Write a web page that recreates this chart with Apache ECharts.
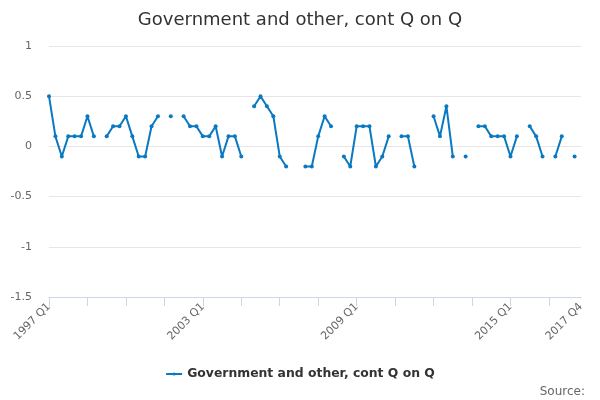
<!DOCTYPE html>
<html lang="en">
<head>
    <meta charset="UTF-8"/>
    <title>Government and other, cont Q on Q</title>
    <script src="https://cdn.jsdelivr.net/npm/echarts@6/dist/echarts.min.js"></script>
</head>
<body style="margin:0">

<div id="main" style="width:600px; height:400px;"></div>

<script type="text/javascript">
    // quarters 1997 Q1 .. 2017 Q4
    var years = [];
    for (var y = 1997; y <= 2017; y++) years.push(y);
    var quarters = ['Q1', 'Q2', 'Q3', 'Q4'];

    var seriesName = 'Government and other, cont Q on Q';

    // values, null where the line breaks
    var values = [
        0.5, 0.1, -0.1, 0.1, 0.1, 0.1, 0.3, 0.1, null, 0.1,
        0.2, 0.2, 0.3, 0.1, -0.1, -0.1, 0.2, 0.3, null, 0.3,
        null, 0.3, 0.2, 0.2, 0.1, 0.1, 0.2, -0.1, 0.1, 0.1,
        -0.1, null, 0.4, 0.5, 0.4, 0.3, -0.1, -0.2, null, null,
        -0.2, -0.2, 0.1, 0.3, 0.2, null, -0.1, -0.2, 0.2, 0.2,
        0.2, -0.2, -0.1, 0.1, null, 0.1, 0.1, -0.2, null, null,
        0.3, 0.1, 0.4, -0.1, null, -0.1, null, 0.2, 0.2, 0.1,
        0.1, 0.1, -0.1, 0.1, null, 0.2, 0.1, -0.1, null, -0.1,
        0.1, null, -0.1, null
    ];

    var shownLabels = ['1997 Q1', '2003 Q1', '2009 Q1', '2015 Q1', '2017 Q4'];

    var categories = [];
    years.forEach(function (yr) {
        quarters.forEach(function (q) { categories.push(yr + ' ' + q); });
    });

    var myChart = echarts.init(document.getElementById('main'));

    var option = {
        animation: false,
        textStyle: { fontFamily: 'DejaVu Sans' },
        title: [{
            text: seriesName,
            left: 'center',
            top: 6,
            textStyle: { fontSize: 18, fontWeight: 'normal', color: '#333333', fontFamily: 'DejaVu Sans' }
        }, {
            text: 'Source:',
            right: 10,
            top: 381,
            textStyle: { fontSize: 12, fontWeight: 'normal', color: '#666666', fontFamily: 'DejaVu Sans' }
        }],
        legend: {
            data: [seriesName],
            top: 363,
            left: 'center',
            itemWidth: 16,
            itemHeight: 4,
            textStyle: { fontSize: 12.4, fontWeight: 'bold', color: '#333333', fontFamily: 'DejaVu Sans' }
        },
        grid: { left: 49, right: 19, top: 46, bottom: 103 },
        xAxis: {
            type: 'category',
            data: categories,
            boundaryGap: false,
            axisLine: { onZero: false, lineStyle: { color: '#ccd6eb' } },
            axisTick: { interval: 5, length: 9, lineStyle: { color: '#ccd6eb' } },
            axisLabel: {
                interval: function (i, v) { return shownLabels.indexOf(v) >= 0; },
                rotate: 45,
                color: '#666666',
                fontSize: 11,
                margin: 8
            },
            splitLine: { show: false }
        },
        yAxis: {
            type: 'value',
            min: -1.5,
            max: 1,
            interval: 0.5,
            axisLine: { show: false },
            axisTick: { show: false },
            axisLabel: { color: '#666666', fontSize: 11, margin: 17 },
            splitLine: { lineStyle: { color: '#e6e6e6' } }
        },
        series: [{
            name: seriesName,
            type: 'line',
            data: values,
            connectNulls: false,
            symbol: 'circle',
            symbolSize: 4,
            showAllSymbol: true,
            itemStyle: { color: '#0b79c1' },
            lineStyle: { width: 2, color: '#0b79c1' }
        }]
    };

    myChart.setOption(option);
</script>

</body>
</html>
